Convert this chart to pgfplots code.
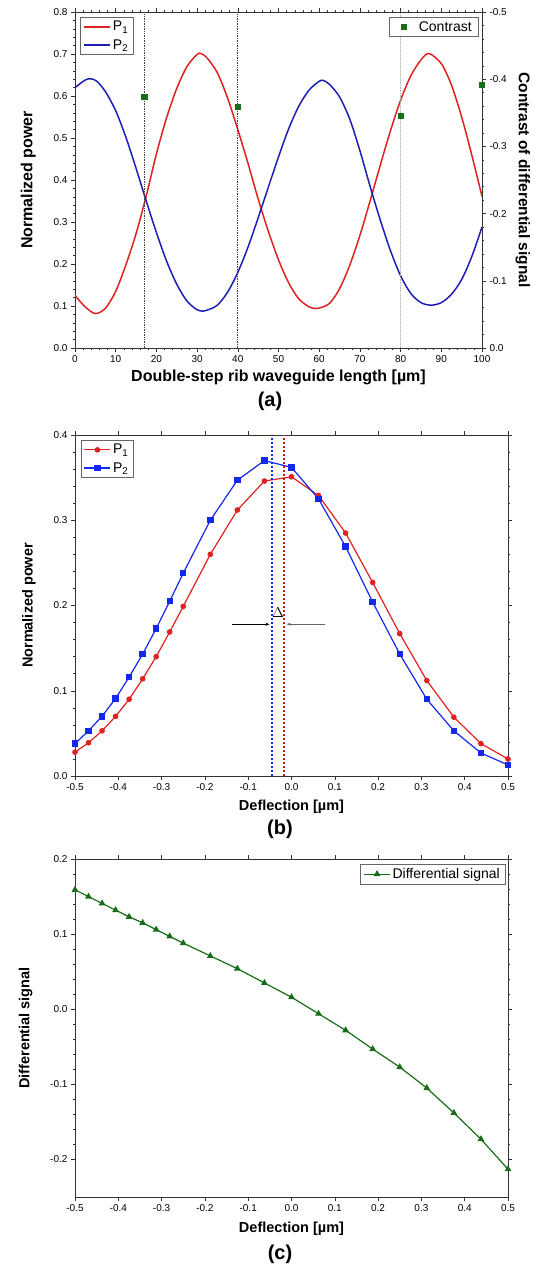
\documentclass[border=0pt]{standalone}
\usepackage{fontspec}
\setmainfont{Liberation Sans}
\usepackage{pgfplots}
\pgfplotsset{compat=1.18}
\usetikzlibrary{arrows.meta}

\definecolor{cred}{RGB}{222,34,34}
\definecolor{cblue}{RGB}{30,30,180}
\definecolor{cblue2}{RGB}{20,40,235}
\definecolor{cgreen}{RGB}{24,110,24}

\pgfplotsset{
  panel/.style={
    scale only axis,
    anchor=south west,
    tick align=outside,
    /pgf/number format/assume math mode=true,
    tick label style={font=\fontsize{10}{12}\selectfont},
    yticklabel style={/pgf/number format/.cd, fixed, fixed zerofill, precision=1},
    label style={font=\bfseries\fontsize{15}{18}\selectfont},
    legend style={font=\fontsize{14}{16}\selectfont, draw=black!60, inner xsep=3pt,
      inner ysep=2pt, row sep=3pt, legend cell align=left},
    axis line style={black!80, line width=0.6pt},
    every tick/.style={black!80, line width=0.5pt},
    major tick length=4pt, minor tick length=2pt,
    ylabel shift=11pt,
  },
  lineleg/.style={legend image code/.code={\draw[##1] (0pt,0pt) -- (26pt,0pt);}},
  markleg/.style={legend image code/.code={%
    \draw[mark repeat=2, mark phase=2, ##1] plot coordinates {(0pt,0pt) (13pt,0pt) (26pt,0pt)};}},
}

\begin{document}
\begin{tikzpicture}
\path[use as bounding box] (0pt,0pt) rectangle (535pt,-1266pt);

% ---------- (a) ----------
\begin{axis}[panel, at={(75pt,-348pt)}, width=407pt, height=336pt,
  xmin=0, xmax=100, ymin=0, ymax=0.8,
  xtick={0,10,...,100}, ytick={0,0.1,0.2,0.3,0.4,0.5,0.6,0.7,0.8},
  minor x tick num=4, minor y tick num=4,
  xtick pos=both, xticklabel pos=bottom, ytick pos=left,
  label style={font=\bfseries\fontsize{16}{18}\selectfont},
  xlabel={Double-step rib waveguide length [µm]},
  ylabel={Normalized power},
  lineleg,
  legend style={at={(0.013,0.985)}, anchor=north west},
]
\addplot[cred, line width=1.5pt, smooth] coordinates {
 (0,0.125) (2.5,0.098) (5,0.082) (7.5,0.095) (10,0.135) (12.5,0.198) (15,0.272)
 (17.5,0.362) (20,0.462) (22.5,0.548) (25,0.618) (27.5,0.670) (30,0.699) (31,0.701)
 (32.5,0.690) (35,0.655) (37.5,0.595) (40,0.520) (42.5,0.440) (45,0.355) (47.5,0.278)
 (50,0.210) (52.5,0.155) (55,0.117) (57.5,0.098) (59,0.094) (60,0.095) (62.5,0.106)
 (65,0.141) (67.5,0.197) (70,0.268) (72.5,0.350) (75,0.435) (77.5,0.517) (80,0.590)
 (82.5,0.648) (85,0.686) (87,0.701) (90,0.677) (92.5,0.626) (95,0.550) (97.5,0.459)
 (100,0.361)};
\addplot[cblue, line width=1.5pt, smooth] coordinates {
 (0,0.620) (2.5,0.638) (4,0.641) (5.5,0.634) (7.5,0.610) (10,0.565) (12.5,0.502)
 (15,0.428) (17.5,0.350) (20,0.275) (22.5,0.207) (25,0.152) (27.5,0.112) (30,0.091)
 (31.5,0.088) (33,0.092) (35,0.102) (37.5,0.133) (40,0.180) (42.5,0.240) (45,0.310)
 (47.5,0.383) (50,0.455) (52.5,0.522) (55,0.576) (57.5,0.614) (60,0.635) (61,0.637)
 (62.5,0.628) (65,0.598) (67.5,0.545) (70,0.470) (72.5,0.385) (75,0.305) (77.5,0.232)
 (80,0.172) (82.5,0.130) (85,0.108) (87.5,0.102) (90,0.108) (92.5,0.128) (95,0.163)
 (97.5,0.218) (100,0.288)};
\addplot[black!75, densely dotted, line width=0.7pt, forget plot] coordinates {(17,0) (17,0.8)};
\addplot[black!75, densely dotted, line width=0.7pt, forget plot] coordinates {(40,0) (40,0.8)};
\addplot[black!30, densely dotted, line width=0.6pt, forget plot] coordinates {(80,0) (80,0.8)};
\legend{P\textsubscript{1}, P\textsubscript{2}}
\end{axis}

\begin{axis}[panel, at={(75pt,-348pt)}, width=407pt, height=336pt,
  xmin=0, xmax=100, ymin=-0.5, ymax=0, y dir=reverse,
  axis x line=none, axis y line*=right, clip=false,
  ytick={-0.5,-0.4,-0.3,-0.2,-0.1,0}, minor y tick num=4,
  label style={font=\bfseries\fontsize{15.5}{18}\selectfont},
  ylabel={Contrast of differential signal},
  ylabel style={rotate=180}, ylabel shift=2pt,
  legend style={at={(0.99,0.985)}, anchor=north east, inner xsep=4pt},
]
\addplot[only marks, mark=square*, mark size=2.6pt, cgreen,
  legend image code/.code={\path[draw=none, fill=none] (0pt,-3pt) rectangle (24pt,3pt);
    \draw[##1] plot coordinates {(11pt,0pt)};}] coordinates {
 (17,-0.374) (40,-0.359) (80,-0.346) (100,-0.392)};
\legend{Contrast}
\end{axis}
\node[font=\bfseries\fontsize{20}{22}\selectfont] at (270pt,-401pt) {(a)};

% ---------- (b) ----------
\begin{axis}[panel, at={(75pt,-776pt)}, width=433pt, height=341pt,
  xmin=-0.5, xmax=0.5, ymin=0, ymax=0.4,
  xtick={-0.5,-0.4,-0.3,-0.2,-0.1,0,0.1,0.2,0.3,0.4,0.5},
  ytick={0,0.1,0.2,0.3,0.4}, minor y tick num=4,
  xticklabel style={/pgf/number format/.cd, fixed, fixed zerofill, precision=1},
  xtick pos=both, xticklabel pos=bottom, ytick pos=both, yticklabel pos=left,
  label style={font=\bfseries\fontsize{14.5}{17}\selectfont},
  xlabel={Deflection [µm]}, xlabel shift=3pt,
  ylabel={Normalized power},
  markleg,
  legend style={at={(0.013,0.985)}, anchor=north west},
]
\addplot[cred, line width=1.2pt, mark=*, mark size=2.2pt] coordinates {
 (-0.5,0.028) (-0.46875,0.039) (-0.4375,0.053) (-0.40625,0.070) (-0.375,0.090)
 (-0.34375,0.114) (-0.3125,0.140) (-0.28125,0.169) (-0.25,0.199) (-0.1875,0.260)
 (-0.125,0.312) (-0.0625,0.346) (0,0.351) (0.0625,0.329) (0.125,0.285) (0.1875,0.227)
 (0.25,0.167) (0.3125,0.112) (0.375,0.069) (0.4375,0.038) (0.5,0.020)};
\addplot[cblue2, line width=1.2pt, mark=square*, mark size=2.6pt] coordinates {
 (-0.5,0.038) (-0.46875,0.053) (-0.4375,0.070) (-0.40625,0.091) (-0.375,0.116)
 (-0.34375,0.143) (-0.3125,0.173) (-0.28125,0.205) (-0.25,0.238) (-0.1875,0.300)
 (-0.125,0.347) (-0.0625,0.370) (0,0.362) (0.0625,0.325) (0.125,0.269) (0.1875,0.204)
 (0.25,0.143) (0.3125,0.090) (0.375,0.053) (0.4375,0.027) (0.5,0.013)};
\addplot[cblue2, dash pattern=on 2pt off 2pt, line width=2pt, forget plot] coordinates {(-0.046,0) (-0.046,0.4)};
\addplot[cred!85!black, dash pattern=on 2pt off 2pt, line width=2pt, forget plot] coordinates {(-0.017,0) (-0.017,0.4)};
\draw[-{Stealth[length=4pt]}, black, line width=0.5pt] (axis cs:-0.138,0.178) -- (axis cs:-0.051,0.178);
\draw[-{Stealth[length=4pt]}, black!60, line width=0.5pt] (axis cs:0.078,0.178) -- (axis cs:-0.011,0.178);
\node[font=\fontsize{15}{16}\selectfont] at (axis cs:-0.031,0.192) {$\Delta$};
\legend{P\textsubscript{1}, P\textsubscript{2}}
\end{axis}
\node[font=\bfseries\fontsize{20}{22}\selectfont] at (280pt,-829pt) {(b)};

% ---------- (c) ----------
\begin{axis}[panel, at={(75pt,-1197pt)}, width=433pt, height=338pt,
  xmin=-0.5, xmax=0.5, ymin=-0.25, ymax=0.2,
  xtick={-0.5,-0.4,-0.3,-0.2,-0.1,0,0.1,0.2,0.3,0.4,0.5},
  ytick={-0.2,-0.1,0,0.1,0.2}, minor y tick num=4,
  xticklabel style={/pgf/number format/.cd, fixed, fixed zerofill, precision=1},
  xtick pos=both, xticklabel pos=bottom, ytick pos=both, yticklabel pos=left,
  label style={font=\bfseries\fontsize{14.5}{17}\selectfont},
  xlabel={Deflection [µm]}, xlabel shift=3pt,
  ylabel={Differential signal},
  markleg,
  legend style={at={(0.993,0.985)}, anchor=north east},
]
\addplot[cgreen, line width=1.2pt, mark=triangle*, mark size=2.8pt] coordinates {
 (-0.5,0.159) (-0.46875,0.150) (-0.4375,0.141) (-0.40625,0.132) (-0.375,0.123)
 (-0.34375,0.115) (-0.3125,0.106) (-0.28125,0.097) (-0.25,0.088) (-0.1875,0.071)
 (-0.125,0.054) (-0.0625,0.035) (0,0.016) (0.0625,-0.006) (0.125,-0.028) (0.1875,-0.053)
 (0.25,-0.077) (0.3125,-0.105) (0.375,-0.138) (0.4375,-0.173) (0.5,-0.213)};
\legend{Differential signal}
\end{axis}
\node[font=\bfseries\fontsize{20}{22}\selectfont] at (280pt,-1254pt) {(c)};
\end{tikzpicture}
\end{document}
